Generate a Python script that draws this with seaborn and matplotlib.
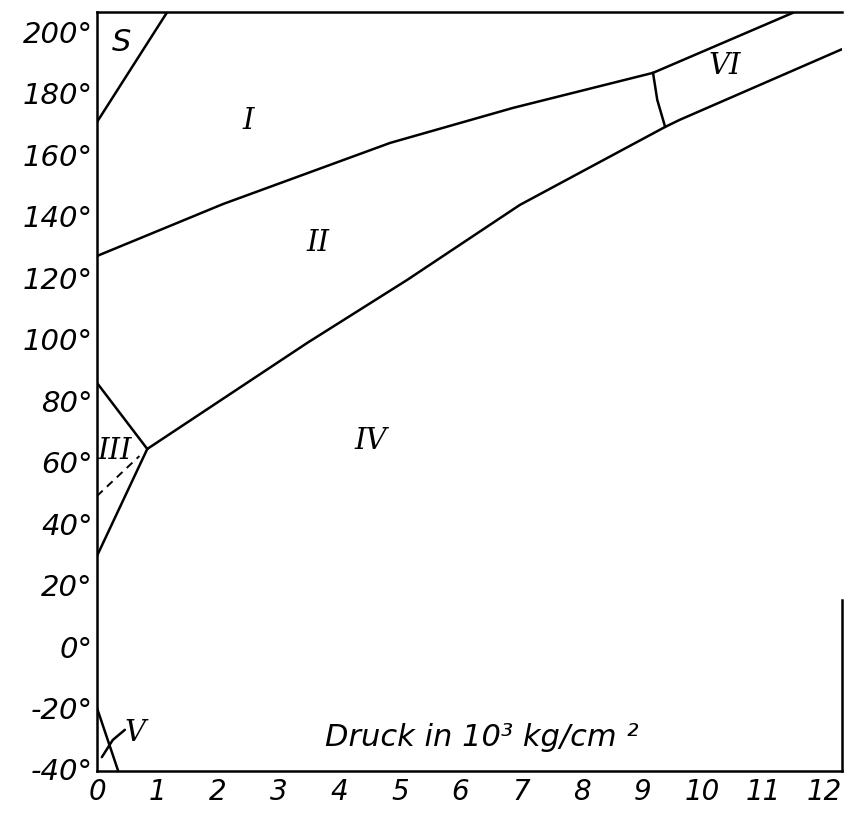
import matplotlib
matplotlib.use("Agg")
import matplotlib.pyplot as plt
import seaborn as sns

# pressure in 10^3 kg/cm^2, temperature in degrees C
s_i_p = [0.0, 1.16]
s_i_t = [170.7, 206.5]

i_ii_p = [0.0, 2.08, 4.84, 6.87, 9.18]
i_ii_t = [127.1, 144.0, 163.9, 175.3, 186.7]

i_vi_p = [9.18, 11.52]
i_vi_t = [186.7, 206.5]

ii_vi_p = [9.18, 9.25, 9.38]
ii_vi_t = [186.7, 177.9, 169.1]

ii_iv_p = [0.83, 3.47, 5.12, 6.98, 9.38]
ii_iv_t = [64.3, 98.8, 119.3, 143.7, 169.1]

iv_vi_p = [9.38, 9.62, 12.30]
iv_vi_t = [169.1, 171.4, 194.4]

iii_top_p = [0.0, 0.83]
iii_top_t = [85.8, 64.3]

iii_iv_p = [0.0, 0.83]
iii_iv_t = [29.5, 64.3]

iii_dash_p = [0.0, 0.70]
iii_dash_t = [49.0, 62.0]

v_line_p = [0.0, 0.35]
v_line_t = [-20.0, -40.5]

v_curve_p = [0.08, 0.26, 0.46]
v_curve_t = [-36.0, -30.4, -27.1]

phase_names = ["S", "I", "II", "III", "IV", "V", "VI"]
phase_p = [0.41, 2.49, 3.65, 0.30, 4.52, 0.63, 10.37]
phase_t = [196.7, 171.0, 131.3, 63.5, 67.0, -28.1, 189.0]

x_ticks = list(range(0, 13))
y_ticks = list(range(-40, 201, 20))

sns.set_theme(style="white")
plt.rcParams['font.family'] = ['DejaVu Sans']
plt.rcParams['font.style'] = 'italic'

fig = plt.figure(figsize=(8.44, 8.13), dpi=100)
ax = fig.add_axes([97 / 844, 1 - 771 / 813, (842 - 97) / 844, (771 - 12) / 813])

lw = 1.8
solid = [(s_i_p, s_i_t), (i_ii_p, i_ii_t), (i_vi_p, i_vi_t), (ii_vi_p, ii_vi_t),
         (ii_iv_p, ii_iv_t), (iv_vi_p, iv_vi_t), (iii_top_p, iii_top_t),
         (iii_iv_p, iii_iv_t), (v_line_p, v_line_t), (v_curve_p, v_curve_t)]
for px, pt in solid:
    sns.lineplot(x=px, y=pt, sort=False, estimator=None, color="black", lw=lw, ax=ax)
sns.lineplot(x=iii_dash_p, y=iii_dash_t, sort=False, estimator=None, color="black",
             lw=1.4, ax=ax, dashes=False, linestyle=(0, (4, 3)))

for name, px, pt in zip(phase_names, phase_p, phase_t):
    fam = "DejaVu Sans" if name == "S" else "DejaVu Serif"
    size = 22 if name == "S" else 21
    ax.text(px, pt, name, ha="center", va="center", fontsize=size, family=fam,
            style="italic", color="black")

ax.text(6.36, -29.5, "Druck in 10³ kg/cm ²", ha="center", va="center",
        fontsize=22, color="black")

ax.set_xlim(0, 12.30)
ax.set_ylim(-40.5, 206.5)
ax.set_xticks(x_ticks)
ax.set_xticklabels([str(v) for v in x_ticks])
ax.set_yticks(y_ticks)
ax.set_yticklabels([f"{v}°" for v in y_ticks])
ax.tick_params(axis="both", direction="in", length=7, width=1.5, colors="black",
               labelsize=21)
ax.tick_params(axis="x", pad=5, labelsize=20)
ax.tick_params(axis="y", pad=3)

for side in ["left", "bottom", "top", "right"]:
    ax.spines[side].set_color("black")
    ax.spines[side].set_linewidth(lw)
ax.spines["right"].set_bounds(-40.5, 15)
ax.set_xlabel("")
ax.set_ylabel("")

fig.savefig("out.png", dpi=100, facecolor="white")
